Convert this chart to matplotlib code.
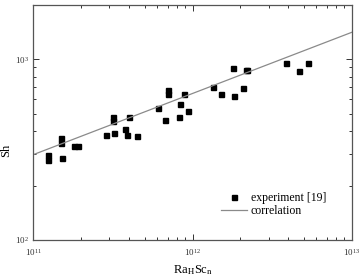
import numpy as np
import matplotlib
matplotlib.use("Agg")
import matplotlib.pyplot as plt
from matplotlib.ticker import LogLocator, NullFormatter

plt.rcParams['font.family'] = ['Liberation Serif', 'DejaVu Serif']
plt.rcParams['mathtext.fontset'] = 'stix'

# experiment [19]
ra_sc = [1.23e11, 1.23e11, 1.49e11, 1.49e11, 1.51e11, 1.80e11, 1.90e11,
         2.86e11, 3.16e11, 3.16e11, 3.21e11, 3.76e11, 3.87e11, 3.98e11,
         4.47e11, 6.06e11, 6.71e11, 7.00e11, 7.00e11, 8.21e11, 8.33e11,
         8.83e11, 9.36e11, 1.34e12, 1.51e12, 1.79e12, 1.82e12, 2.07e12,
         2.17e12, 2.21e12, 3.87e12, 4.67e12, 5.31e12]
sh = [295, 277, 366, 344, 284, 331, 331,
      380, 478, 455, 390, 411, 380, 478,
      376, 536, 460, 674, 641, 478, 564,
      641, 516, 700, 641, 892, 625, 692,
      869, 869, 950, 858, 950]

# correlation Sh = C * (Ra Sc)^n
corr_coef = 0.0568
corr_exp = 0.338

fig = plt.figure(figsize=(3.6, 2.77), dpi=100)
ax = fig.add_axes([0.093, 0.1336, 0.884, 0.8494])

xc = np.logspace(11, 13, 100)
ax.plot(ra_sc, sh, 's', color='black', markersize=3.6, label='experiment [19]')
ax.plot(xc, corr_coef * xc ** corr_exp, '-', color='#8a8a8a', lw=0.9,
        label='correlation')

ax.set_xscale('log')
ax.set_yscale('log')
ax.set_xlim(1e11, 1e13)
ax.set_ylim(100, 2000)
ax.set_xticks([1e11, 1e12, 1e13])
ax.set_yticks([1e2, 1e3])
ax.xaxis.set_minor_locator(LogLocator(base=10, subs=np.arange(2, 10)))
ax.yaxis.set_minor_locator(LogLocator(base=10, subs=np.arange(2, 10)))
ax.xaxis.set_minor_formatter(NullFormatter())
ax.yaxis.set_minor_formatter(NullFormatter())

ax.tick_params(which='both', direction='in', top=True, right=True,
               labelsize=6.5, colors='#333333', width=0.7)
ax.tick_params(which='major', length=4)
ax.tick_params(which='minor', length=2.5)
ax.tick_params(axis='x', pad=5)
for s in ax.spines.values():
    s.set_linewidth(0.9)
    s.set_color('#555555')

ax.set_ylabel('Sh', fontsize=9)
ax.yaxis.set_label_coords(-0.068, 0.38)
ax.set_xlabel(r'Ra$_\mathrm{H}$Sc$_\mathrm{n}$', fontsize=9, labelpad=4)

ax.legend(loc='center', bbox_to_anchor=(0.755, 0.15), frameon=False,
          fontsize=8.5, handlelength=2.2, handletextpad=0.3,
          labelspacing=0.05, borderpad=0)

fig.savefig('out.png', dpi=100)
